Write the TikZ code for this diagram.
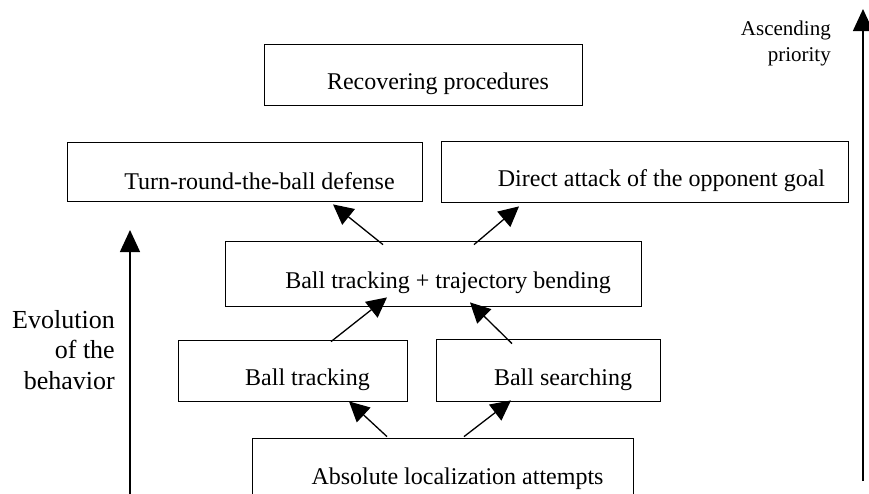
\documentclass[tikz,border=0pt]{standalone}
\usepackage{fontspec}
\setmainfont{Liberation Serif}
\usetikzlibrary{arrows.meta}

\begin{document}
\begin{tikzpicture}
      [x=1pt, y=-1pt,
      stage box/.style 2 args={draw, line width=0.8pt, inner sep=0pt,
        minimum width=#1pt, minimum height=#2pt},
      box text/.style={anchor=base, xshift=15pt, yshift=-9.5pt, inner sep=0pt,
        font=\fontsize{24}{28}\selectfont},
      up arrow/.style={line width=1.3pt, -{Triangle[length=20pt,width=20pt]}},
      axis arrow/.style={line width=1.5pt, -{Triangle[length=22pt,width=20pt]}}]
      \useasboundingbox (0,0) rectangle (869,493);
      \clip (0,0) rectangle (869,493);
      \node[stage box={318}{61}, label={[box text]center:Recovering procedures}]
        (recover) at (423,74.5) {};
      \node[stage box={355}{59}, label={[box text]center:Turn-round-the-ball defense}]
        (defense) at (244.5,171.5) {};
      \node[stage box={407}{61}, label={[box text, xshift=2pt]center:Direct attack of the opponent goal}]
        (attack) at (644.5,171.5) {};
      \node[stage box={416}{65}, label={[box text]center:Ball tracking + trajectory bending}]
        (bending) at (433,273.5) {};
      \node[stage box={229}{61}, label={[box text]center:Ball tracking}]
        (tracking) at (292.5,370.5) {};
      \node[stage box={224}{62}, label={[box text]center:Ball searching}]
        (searching) at (548,370) {};
      \node[stage box={381}{62}, label={[box text]center:Absolute localization attempts}]
        (localization) at (442.5,469) {};
      \draw[up arrow] ([xshift=-55.5pt,yshift=1pt]localization.north)
        -- ([xshift=56.5pt]tracking.south);
      \draw[up arrow] ([xshift=21.5pt,yshift=1pt]localization.north)
        -- ([xshift=-37pt,yshift=1pt]searching.south);
      \draw[up arrow] ([xshift=38.5pt,yshift=-2pt]tracking.north)
        -- ([xshift=-46pt,yshift=9pt]bending.south);
      \draw[up arrow] ([xshift=-36pt,yshift=-5pt]searching.north)
        -- ([xshift=37pt,yshift=4pt]bending.south);
      \draw[up arrow] ([xshift=-50pt,yshift=-4pt]bending.north)
        -- ([xshift=88.5pt,yshift=-3pt]defense.south);
      \draw[up arrow] ([xshift=41pt,yshift=-4pt]bending.north)
        -- ([xshift=-125.5pt,yshift=-4pt]attack.south);
      \node[align=right, anchor=base east, inner sep=0pt,
        font=\fontsize{26}{30.5}\selectfont] (evolution) at (115,389)
        {Evolution\\of the\\behavior};
      \node[align=right, anchor=base east, inner sep=0pt,
        font=\fontsize{21}{26}\selectfont] (priority) at (831,61)
        {Ascending\\priority};
      \coordinate (evolution start) at (130,500);
      \coordinate (evolution end) at (130,230);
      \coordinate (priority start) at (863,481);
      \coordinate (priority end) at (863,9);
      \draw[axis arrow] (evolution start) -- (evolution end);
      \draw[axis arrow] (priority start) -- (priority end);
    \end{tikzpicture}
\end{document}
